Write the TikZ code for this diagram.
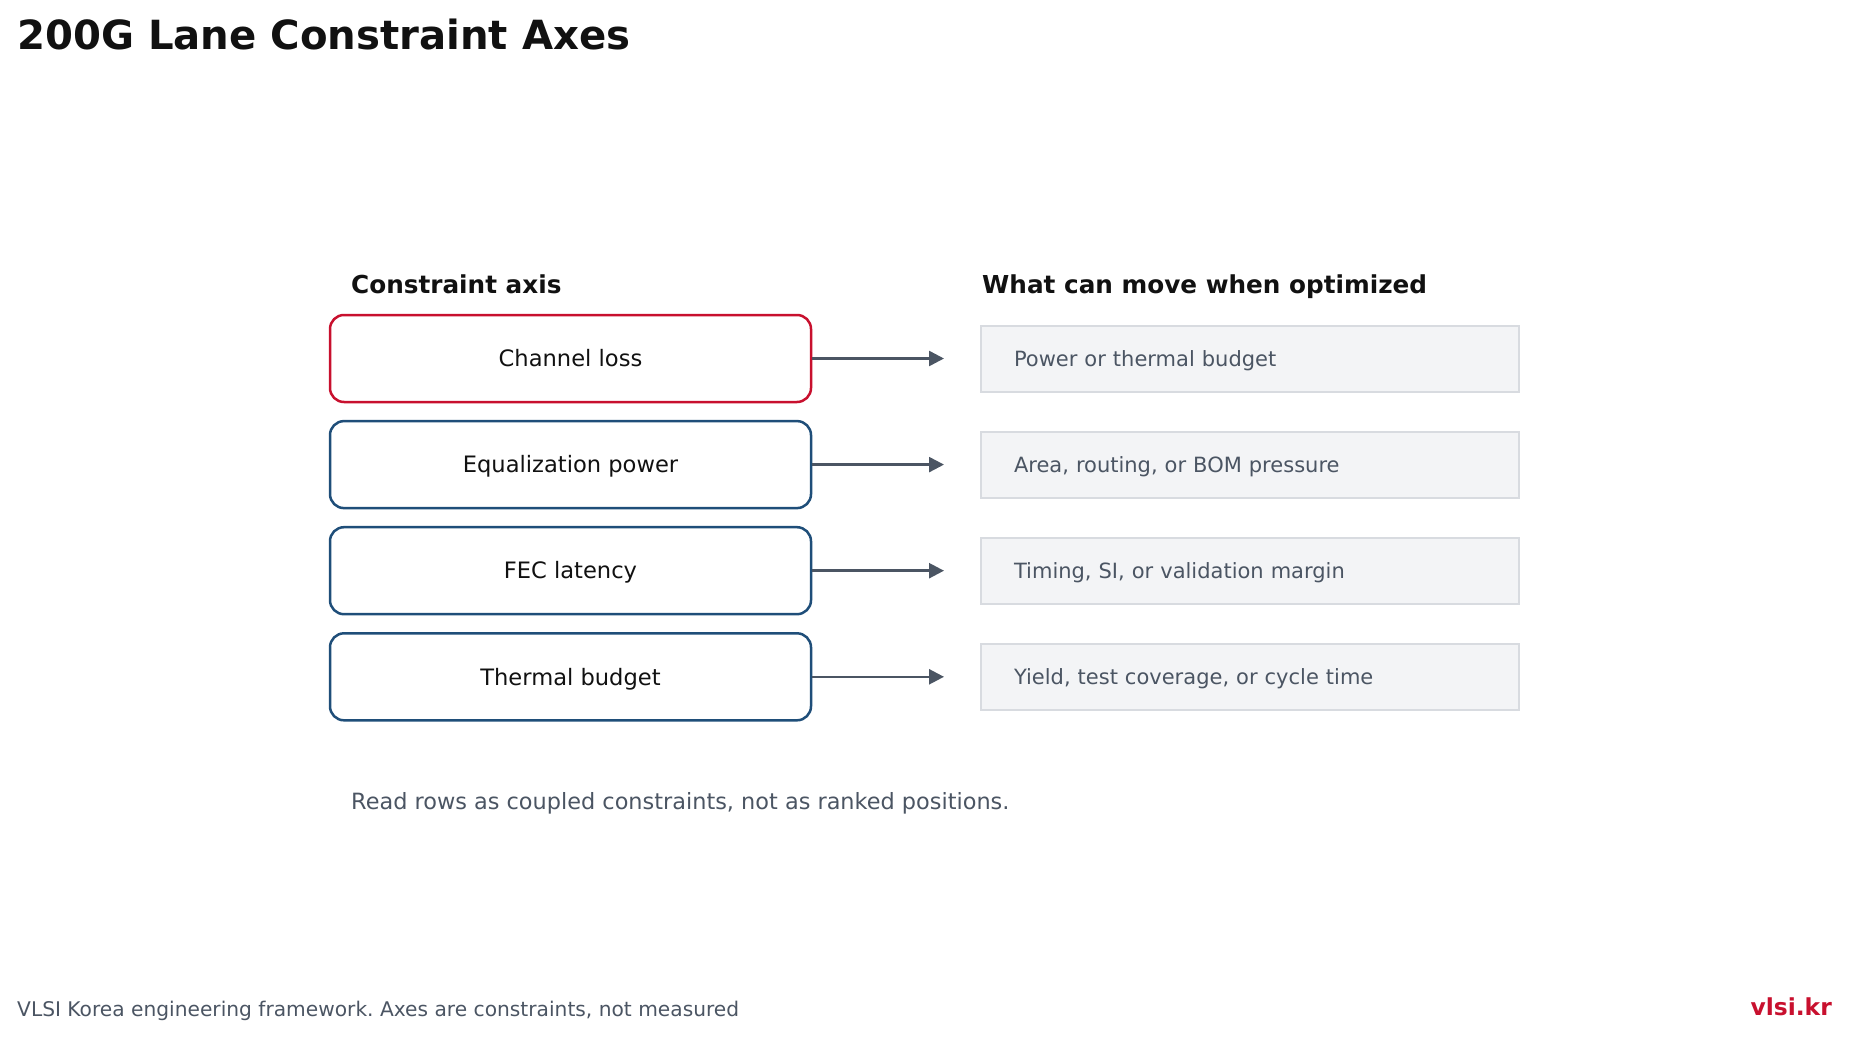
\documentclass[tikz,border=0pt]{standalone}
\usepackage{fontspec}
\setmainfont{DejaVu Sans}
\usepackage{xcolor}
\usepackage{tikz}
\usetikzlibrary{arrows.meta,positioning}
\definecolor{vred}{HTML}{C8102E}
\definecolor{vnavy}{HTML}{1F4E79}
\definecolor{vgray}{HTML}{4B5563}
\definecolor{vfill}{HTML}{F3F4F6}
\definecolor{vline}{HTML}{D8DBE0}
\definecolor{vink}{HTML}{111111}
\frenchspacing

\begin{document}
\begin{tikzpicture}[x=1pt, y=-1pt,
    axisbox/.style={rectangle, draw=vnavy, line width=2.5pt, rounded corners=14pt, minimum width=481pt, minimum height=87pt, text height=21.5pt, text depth=5pt, font=\fontsize{22.6}{27}\selectfont, text=vink},
    movebox/.style={rectangle, draw=vline, fill=vfill, line width=2pt, minimum width=538pt, minimum height=66pt, text width=472pt, inner xsep=33pt, text height=20.3pt, text depth=5pt, align=left, font=\fontsize{21}{25}\selectfont, text=vgray},
    head/.style={anchor=base west, inner sep=0pt, font=\bfseries\fontsize{24.7}{29}\selectfont, text=vink},
    note/.style={anchor=base west, inner sep=0pt, text=vgray},
    link/.style={draw=vgray, line width=2.5pt, shorten >=36pt, -{Triangle[length=15pt,width=15pt]}},
]
    \useasboundingbox (0,0) rectangle (1849,1038);
    \node[anchor=base west, inner sep=0pt, font=\bfseries\fontsize{40.2}{46}\selectfont, text=vink] (title) at (17,50) {200G Lane Constraint Axes};

    \node[head] (axhead) at (351,293.5) {Constraint axis};
    \node[head] (mvhead) at (982,293.5) {What can move when optimized};

    \node[axisbox, draw=vred] (ax1) at (570.5,358.5) {Channel loss};
    \node[axisbox] (ax2) at (570.5,464.6) {Equalization power};
    \node[axisbox] (ax3) at (570.5,570.7) {FEC latency};
    \node[axisbox] (ax4) at (570.5,676.8) {Thermal budget};

    \node[movebox] (mv1) at (1250,358.5) {Power or thermal budget};
    \node[movebox] (mv2) at (1250,464.6) {Area, routing, or BOM pressure};
    \node[movebox] (mv3) at (1250,570.7) {Timing, SI, or validation margin};
    \node[movebox] (mv4) at (1250,676.8) {Yield, test coverage, or cycle time};

    \foreach \i in {1,...,4}
        \draw[link] (ax\i.east) -- (mv\i.west);

    \node[note, font=\fontsize{22.4}{26}\selectfont] (reading) at (351,809) {Read rows as coupled constraints, not as ranked positions.};
    \node[note, font=\fontsize{20.2}{24}\selectfont] (footer) at (17,1016) {VLSI Korea engineering framework. Axes are constraints, not measured};
    \node[anchor=base east, inner sep=0pt, font=\bfseries\fontsize{23.4}{27}\selectfont, text=vred] (brand) at (1832,1015) {vlsi.kr};
\end{tikzpicture}
\end{document}
